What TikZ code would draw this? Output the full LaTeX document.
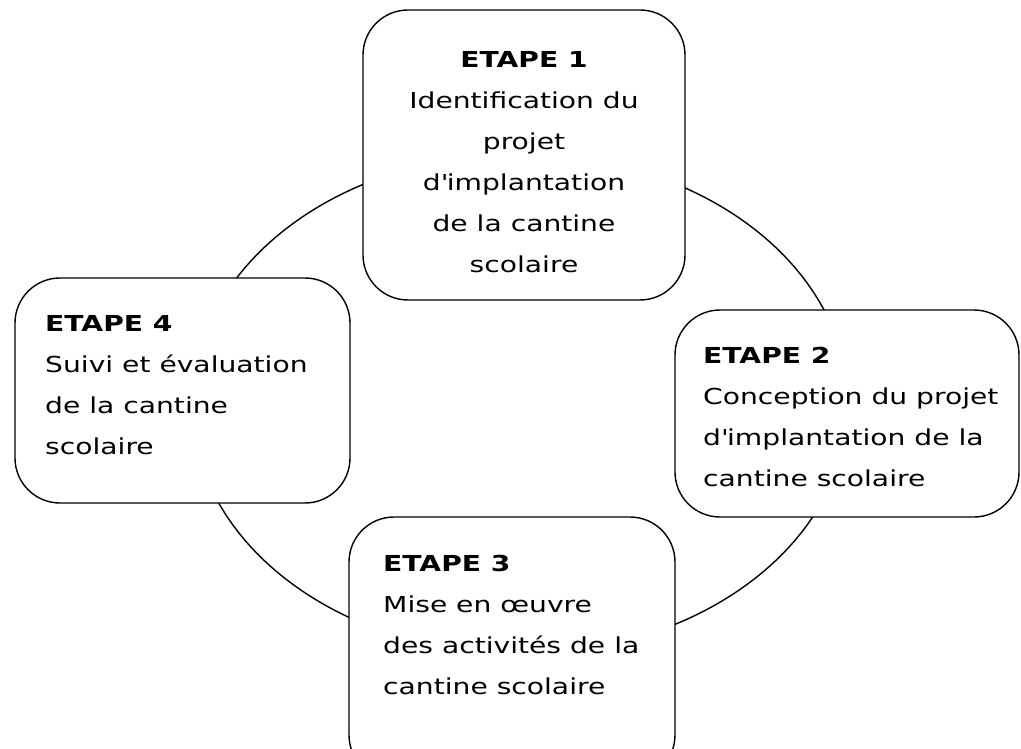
\documentclass[tikz,border=0pt]{standalone}
\usepackage{fontspec}
\setmainfont[FakeStretch=1.28]{DejaVu Sans}
\begin{document}
\begin{tikzpicture}[x=1pt,y=-1pt]
  \tikzset{
    etape/.style={draw, line width=1.4pt, rounded corners=45pt, fill=white, inner sep=0pt},
    texte/.style={inner sep=0pt, font=\fontsize{22}{41}\selectfont},
  }
  \useasboundingbox (0,0) rectangle (1021,749);
  % le cycle derriere les etapes
  \coordinate (centre) at (520,404);
  \draw[line width=1.4pt] (centre) ellipse [x radius=328pt, y radius=250pt];
  % les cadres
  \node[etape, minimum width=322pt, minimum height=290pt] (etape1) at (524,155) {};
  \node[etape, minimum width=344pt, minimum height=207pt] (etape2) at (847,413.5) {};
  \node[etape, minimum width=326pt, minimum height=263pt] (etape3) at (512,648.5) {};
  \node[etape, minimum width=335pt, minimum height=225pt] (etape4) at (182.5,390.5) {};
  % les textes
  \begin{scope}
    \clip (etape1.north west) rectangle ([yshift=25pt]etape1.south east);
    \node[texte, align=center] (texte1) at (524,162)
      {\textbf{ETAPE 1}\\Identification du\\projet\\d\textquotesingle implantation\\de la cantine\\scolaire};
  \end{scope}
  \node[texte, align=left, anchor=west] (texte2) at (703,417)
    {\textbf{ETAPE 2}\\Conception du projet\\d\textquotesingle implantation de la\\cantine scolaire};
  \node[texte, align=left, anchor=west] (texte3) at (383,625)
    {\textbf{ETAPE 3}\\Mise en œuvre\\des activités de la\\cantine scolaire};
  \node[texte, align=left, anchor=west] (texte4) at (45,385)
    {\textbf{ETAPE 4}\\Suivi et évaluation\\de la cantine\\scolaire};
\end{tikzpicture}
\end{document}
